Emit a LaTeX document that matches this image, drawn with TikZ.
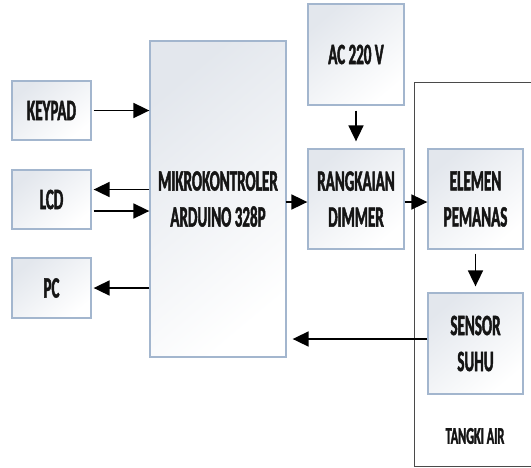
\documentclass[tikz,border=0pt]{standalone}
\usepackage{fontspec}
\usetikzlibrary{arrows.meta}
\newfontfamily\blockfont[FakeStretch=0.51,BoldFont={Carlito Bold},BoldFeatures={FakeBold=1.5}]{Carlito}
\definecolor{boxline}{HTML}{A3B6CE}
\definecolor{boxshade}{HTML}{E3E7ED}
\definecolor{tankline}{HTML}{4A4A4A}
\definecolor{ink}{HTML}{151515}
\tikzset{
  block/.style={draw=boxline,line width=1.3pt,top color=boxshade,bottom color=white,
    shading angle=40,inner sep=0pt,align=center,text=ink,
    font=\blockfont\bfseries\fontsize{29.5}{36}\selectfont},
  arr/.style={line width=1.8pt,-{Triangle[length=16pt,width=15pt]}}
}
\begin{document}
\begin{tikzpicture}[x=1pt,y=-1pt]
\path[use as bounding box] (0,0) rectangle (531,467);
% blocks
\node[block,minimum width=79pt,minimum height=59pt] (keypad) at (51.5,110.5) {KEYPAD};
\node[block,minimum width=79pt,minimum height=59pt] (lcd) at (51.5,199.5) {LCD};
\node[block,minimum width=79pt,minimum height=60pt] (pc) at (51.5,288) {PC};
\node[block,minimum width=136pt,minimum height=316pt] (mcu) at (218,199) {MIKROKONTROLER\\ARDUINO 328P};
\node[block,minimum width=96pt,minimum height=101pt] (ac) at (356,54.5) {AC 220 V};
\node[block,minimum width=96pt,minimum height=100pt] (dimmer) at (356,199) {RANGKAIAN\\DIMMER};
% tank
\draw[tankline,line width=0.9pt] (531,82) -- (414,82) -- (414,466) -- (531,466);
\node[block,minimum width=95pt,minimum height=100pt] (heater) at (475.5,199) {ELEMEN\\PEMANAS};
\node[block,minimum width=95pt,minimum height=101pt] (sensor) at (475.5,343.5) {SENSOR\\SUHU};
\node[text=ink,font=\blockfont\bfseries\fontsize{24}{28}\selectfont] (tank) at (475,436) {TANGKI AIR};
% connectors
\draw[arr,shorten <=2pt] (keypad.east) -- (keypad.east -| mcu.west);
\draw[arr,shorten >=2pt] ([yshift=10pt]lcd.east -| mcu.west) -- ([yshift=10pt]lcd.east);
\draw[arr,shorten <=2pt] ([yshift=-11.5pt]lcd.east) -- ([yshift=-11.5pt]lcd.east -| mcu.west);
\draw[arr,shorten >=2pt] (pc.east -| mcu.west) -- (pc.east);
\draw[arr,shorten <=-1pt] ([yshift=-3pt]mcu.east) -- ([yshift=-3pt]dimmer.west);
\draw[arr,shorten <=5pt,shorten >=7pt] (ac.south) -- (dimmer.north);
\draw[arr] ([yshift=-3pt]dimmer.east) -- ([yshift=-3pt]heater.west);
\draw[arr,shorten <=4pt,shorten >=6pt] (heater.south) -- (sensor.north);
\draw[arr,shorten >=6pt] ([yshift=4.5pt]sensor.west) -- ([yshift=4.5pt]sensor.west -| mcu.east);
\end{tikzpicture}
\end{document}
